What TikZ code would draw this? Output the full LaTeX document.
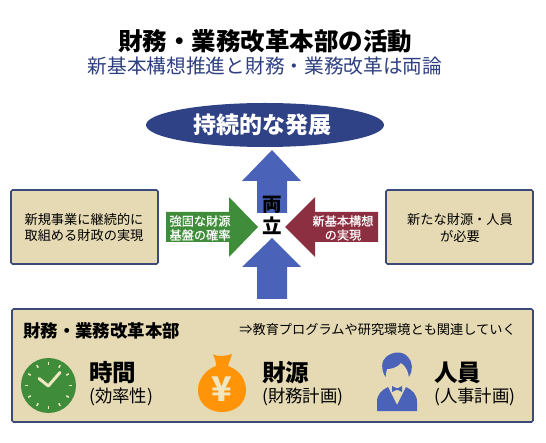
\documentclass[tikz,border=0pt]{standalone}
\usetikzlibrary{shapes.geometric}
\usepackage{fontspec}
\setmainfont{Noto Sans CJK JP}
\newfontfamily\medfont[FakeBold=0.5]{Noto Sans CJK JP}
\newcommand{\fsz}[1]{\fontsize{#1}{#1}\selectfont}
\definecolor{navy}{HTML}{2F4285}
\definecolor{subnavy}{HTML}{2E3F80}
\definecolor{blueA}{HTML}{4A62B8}
\definecolor{greenA}{HTML}{3F8C3A}
\definecolor{redA}{HTML}{8C2F40}
\definecolor{beige}{HTML}{E5DAB4}
\definecolor{edgeB}{HTML}{3B4A78}
\definecolor{orangeA}{HTML}{FF9408}
\definecolor{cream}{HTML}{F0E6C0}
\tikzset{
  txt/.style={inner sep=0pt,text=black,anchor=center},
  panel/.style={draw=edgeB,line width=1.6pt,fill=beige,rounded corners=1.5pt},
  smalltext/.style={txt,align=center,font=\fsz{13.2},text width=140pt},
  arrowtext/.style={txt,align=center,text=white,font=\medfont\fsz{12.2},text width=70pt},
  headtext/.style={txt,anchor=west,font=\bfseries\fsz{23.5}},
  subhead/.style={txt,anchor=west,font=\fsz{17.4}},
}
\begin{document}
\begin{tikzpicture}[x=1pt,y=-1pt]
\useasboundingbox (0,0) rectangle (546,443);
% arrows
\fill[blueA] (272,150) -- (301,181) -- (287,181) -- (287,213) -- (257,213) -- (257,181) -- (242,181) -- cycle;
\fill[blueA] (272,238) -- (301,267) -- (287,267) -- (287,299) -- (257,299) -- (257,267) -- (242,267) -- cycle;
\fill[greenA] (166,212) -- (229,212) -- (229,197) -- (258,227) -- (229,257) -- (229,242) -- (166,242) -- cycle;
\fill[redA] (378,212) -- (315,212) -- (315,197) -- (285,227) -- (315,257) -- (315,242) -- (378,242) -- cycle;
% ellipse
\node[ellipse,fill=navy,minimum width=238pt,minimum height=44pt,inner sep=0pt] (goal) at (265,125) {};
\node[txt,font=\bfseries\fsz{23},text=white] (goalt) at (262.5,124.5) {持続的な発展};
% titles
\node[txt,font=\bfseries\fsz{24.5}] (title) at (265,41.5) {財務・業務改革本部の活動};
\node[txt,font=\fsz{19.7},text=subnavy] (sub) at (265,66) {新基本構想推進と財務・業務改革は両論};
% centre
\node[txt,font=\bfseries\fsz{19.5}] (ryo) at (272,205) {両};
\node[txt,font=\bfseries\fsz{19.5}] (ritsu) at (272,226) {立};
% side boxes
\node[panel,minimum width=147pt,minimum height=74pt,inner sep=0pt] (left) at (84.5,227) {};
\node[smalltext] (leftA) at (84,219.5) {新規事業に継続的に};
\node[smalltext] (leftB) at (84,236) {取組める財政の実現};
\node[panel,minimum width=147pt,minimum height=74pt,inner sep=0pt] (right) at (459.5,227) {};
\node[smalltext] (rightA) at (460,219.5) {新たな財源・人員};
\node[smalltext] (rightB) at (460,236) {が必要};
% arrow labels
\node[arrowtext] (gA) at (200,221) {強固な財源};
\node[arrowtext] (gB) at (200,235) {基盤の確率};
\node[arrowtext] (rA) at (343,221) {新基本構想};
\node[arrowtext] (rB) at (343,235) {の実現};
% bottom panel
\node[panel,minimum width=521pt,minimum height=113pt,inner sep=0pt] (base) at (272.5,365.5) {};
\node[txt,anchor=west,font=\bfseries\fsz{17.4}] (bt) at (23,331) {財務・業務改革本部};
\node[txt,anchor=east,font=\fsz{13.2}] (bn) at (516,330) {⇒教育プログラムや研究環境とも関連していく};
\node[headtext] (h1) at (89,373) {時間};
\node[subhead] (s1) at (89,396.5) {(効率性)};
\node[headtext] (h2) at (262,373) {財源};
\node[subhead] (s2) at (262,396.5) {(財務計画)};
\node[headtext] (h3) at (434,373) {人員};
\node[subhead] (s3) at (434,396.5) {(人事計画)};
% clock
\fill[greenA] (48.5,385.5) circle (27.5);
\foreach \a in {0,30,...,330}
  \draw[cream,line width=1.5pt,shift={(48.5,385.5)}] (\a:20.5) -- (\a:23.5);
\draw[cream,line width=3pt,line cap=round,line join=round] (39,378.5) -- (48.3,386) -- (60,372.5);
% money bag
\fill[orangeA] (213,354.5) .. controls (219,357) and (226,356) .. (232,354) .. controls (231,358) and (229,362) .. (228,366)
  .. controls (240,370) and (246,380) .. (246,390) .. controls (246,403) and (236,412) .. (222,412)
  .. controls (208,412) and (198,403) .. (198,390) .. controls (198,380) and (205,370) .. (216,366)
  .. controls (216,362) and (215,358) .. (213,354.5) -- cycle;
\node[txt,font=\bfseries\fsz{34},text=cream] (yen) at (222,389) {¥};
% person
\fill[blueA] (385.5,377) .. controls (381,370) and (381,361) .. (386,357) .. controls (393,351) and (403,351) .. (408,357)
  .. controls (413,362) and (413,371) .. (409,377) .. controls (408,371) and (406,366) .. (401,363)
  .. controls (397,368) and (390,369) .. (387,369) .. controls (386,372) and (386,374) .. (385.5,377) -- cycle;
\fill[blueA] (377,411) -- (377,402) .. controls (377,394) and (382,390) .. (388,387) -- (397,405) -- (406,387)
  .. controls (412,390) and (417,394) .. (417,402) -- (417,411) -- cycle;
\fill[blueA] (392,386) -- (396,388) -- (398,388) -- (402,386) -- (402,392) -- (398,390) -- (396,390) -- (392,392) -- cycle;
\end{tikzpicture}
\end{document}
